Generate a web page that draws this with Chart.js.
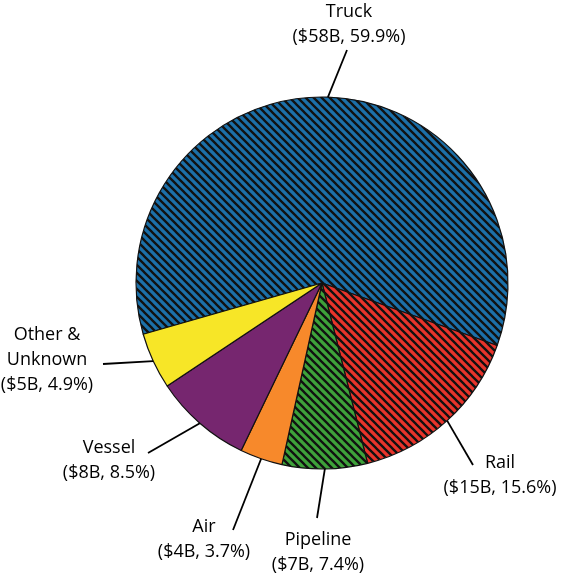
<!DOCTYPE html>
<html>
<head>
<meta charset="utf-8">
<script src="https://cdn.jsdelivr.net/npm/chart.js@4"></script>
<style>
  html, body { margin: 0; padding: 0; background: #fff; }
  #wrap { width: 562px; height: 576px; position: relative; }
</style>
</head>
<body>
<div id="wrap"><canvas id="myChart"></canvas></div>
<script>
// modes de transport, valeurs en milliards $ et part en %
const modes = ['Truck', 'Rail', 'Pipeline', 'Air', 'Vessel', 'Other & Unknown'];
const valueB = [58, 15, 7, 4, 8, 5];
const share = [59.9, 15.6, 7.4, 3.7, 8.5, 4.9];
const colors = ['#1c70a9', '#e8342b', '#3ea23a', '#f7892b', '#76266f', '#f7e627'];
const hatched = [true, true, true, false, false, false];

// placement des etiquettes (decalage depuis le centre du camembert)
const labelLines = [['Truck'], ['Rail'], ['Pipeline'], ['Air'], ['Vessel'], ['Other &', 'Unknown']];
const labelPos = [
  { end: [25, -233], text: [27, -271] },
  { end: [151, 182], text: [178, 180] },
  { end: [-5, 235], text: [-4, 257] },
  { end: [-89, 247], text: [-118, 244] },
  { end: [-174, 170], text: [-213, 165] },
  { end: [-219, 81], text: [-275, 52] }
];

function stripes(color) {
  const s = 8;
  const c = document.createElement('canvas');
  c.width = s; c.height = s;
  const g = c.getContext('2d');
  g.fillStyle = color;
  g.fillRect(0, 0, s, s);
  g.strokeStyle = '#111';
  g.lineWidth = 2.3;
  g.beginPath();
  for (let k = -1; k <= 1; k++) {
    g.moveTo(k * s - 1, -1);
    g.lineTo(k * s + s + 1, s + 1);
  }
  g.stroke();
  return g.createPattern(c, 'repeat');
}

const fills = colors.map((c, i) => hatched[i] ? stripes(c) : c);

const labelPlugin = {
  id: 'labels',
  afterDraw(chart) {
    const ctx = chart.ctx;
    const arcs = chart.getDatasetMeta(0).data;
    ctx.save();
    ctx.font = '18px "Open Sans"';
    ctx.fillStyle = '#000';
    ctx.strokeStyle = '#000';
    ctx.lineWidth = 1.8;
    ctx.textAlign = 'center';
    ctx.textBaseline = 'middle';
    arcs.forEach((arc, i) => {
      const { x, y, startAngle, endAngle, outerRadius } = arc.getProps(['x', 'y', 'startAngle', 'endAngle', 'outerRadius'], true);
      const mid = (startAngle + endAngle) / 2;
      const sx = x + Math.cos(mid) * outerRadius;
      const sy = y + Math.sin(mid) * outerRadius;
      const p = labelPos[i];
      ctx.beginPath();
      ctx.moveTo(sx, sy);
      ctx.lineTo(x + p.end[0], y + p.end[1]);
      ctx.stroke();
      const lines = labelLines[i].concat([`($${valueB[i]}B, ${share[i].toFixed(1)}%)`]);
      lines.forEach((t, j) => {
        ctx.fillText(t, x + p.text[0], y + p.text[1] + j * 25);
      });
    });
    ctx.restore();
  }
};

const ctx = document.getElementById('myChart');
const myChart = new Chart(ctx, {
  type: 'pie',
  data: {
    labels: modes,
    datasets: [{
      data: share,
      backgroundColor: fills,
      borderColor: '#111',
      borderWidth: 1.2,
      radius: 186
    }]
  },
  options: {
    responsive: true,
    maintainAspectRatio: false,
    animation: false,
    rotation: 254,
    layout: { padding: { left: 82, right: 0, top: 0, bottom: 10 } },
    plugins: {
      legend: { display: false },
      tooltip: { enabled: false }
    }
  },
  plugins: [labelPlugin]
});
</script>
</body>
</html>
